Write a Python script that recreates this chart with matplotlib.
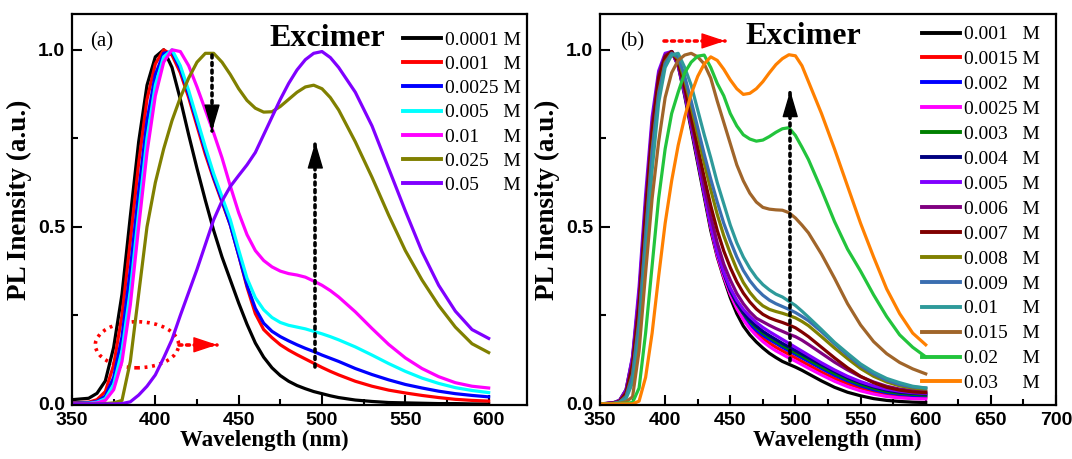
import matplotlib
matplotlib.use("Agg")
import matplotlib.pyplot as plt
from matplotlib.patches import Ellipse
from matplotlib.ticker import MultipleLocator


# wspolna siatka dlugosci fali (nm)
wavelength = [350, 360, 365, 370, 375, 380, 385, 390, 395, 400, 405, 410, 415, 420, 425,
              430, 435, 440, 445, 450, 455, 460, 465, 470, 475, 480, 485, 490, 495, 500,
              505, 510, 520, 530, 540, 550, 560, 570, 580, 590, 600]

# (a) widma PL dla roznych stezen
a_labels = ["0.0001 M", "0.001   M", "0.0025 M", "0.005   M", "0.01     M", "0.025   M", "0.05     M"]
a_colors = ["#000000", "#FF0000", "#0000FF", "#00FFFF", "#FF00FF", "#808000", "#8000FF"]

a_0001 = [0.012, 0.016, 0.03, 0.065, 0.16, 0.31, 0.53, 0.74, 0.90, 0.98, 1.0, 0.95, 0.86, 0.76, 0.665,
          0.575, 0.49, 0.415, 0.35, 0.285, 0.225, 0.172, 0.132, 0.102, 0.08, 0.064, 0.052, 0.043, 0.035, 0.029,
          0.023, 0.018, 0.011, 0.007, 0.004, 0.003, 0.002, 0.001, 0.001, 0.0, 0.0]
a_001 = [0.003, 0.005, 0.012, 0.035, 0.11, 0.25, 0.46, 0.68, 0.86, 0.96, 1.0, 0.985, 0.935, 0.865, 0.785,
         0.705, 0.635, 0.57, 0.505, 0.42, 0.33, 0.255, 0.21, 0.187, 0.167, 0.152, 0.139, 0.127, 0.115, 0.103,
         0.092, 0.082, 0.064, 0.05, 0.039, 0.031, 0.024, 0.018, 0.013, 0.01, 0.008]
a_0025 = [0.002, 0.003, 0.007, 0.022, 0.075, 0.19, 0.38, 0.6, 0.8, 0.93, 0.99, 0.995, 0.945, 0.875, 0.795,
          0.715, 0.64, 0.575, 0.505, 0.42, 0.335, 0.27, 0.228, 0.205, 0.19, 0.178, 0.167, 0.157, 0.148, 0.138,
          0.129, 0.12, 0.1, 0.083, 0.068, 0.055, 0.045, 0.036, 0.029, 0.024, 0.02]
a_005 = [0.001, 0.002, 0.005, 0.015, 0.055, 0.15, 0.32, 0.54, 0.75, 0.9, 0.98, 1.0, 0.955, 0.885, 0.805,
         0.725, 0.65, 0.585, 0.52, 0.435, 0.355, 0.3, 0.266, 0.244, 0.23, 0.222, 0.217, 0.212, 0.205, 0.198,
         0.19, 0.181, 0.161, 0.138, 0.114, 0.092, 0.073, 0.058, 0.046, 0.038, 0.032]
a_01 = [0.001, 0.001, 0.003, 0.01, 0.04, 0.12, 0.28, 0.5, 0.71, 0.87, 0.965, 1.0, 0.995, 0.955, 0.895,
        0.83, 0.765, 0.695, 0.615, 0.54, 0.478, 0.433, 0.405, 0.387, 0.375, 0.368, 0.364, 0.358, 0.347, 0.335,
        0.32, 0.302, 0.26, 0.213, 0.168, 0.13, 0.1, 0.077, 0.06, 0.05, 0.045]
a_025 = [0.0, 0.0, 0.0, 0.001, 0.003, 0.01, 0.12, 0.31, 0.5, 0.625, 0.72, 0.8, 0.865, 0.92, 0.965,
         0.99, 0.99, 0.965, 0.93, 0.89, 0.857, 0.835, 0.824, 0.825, 0.84, 0.86, 0.88, 0.895, 0.9, 0.89,
         0.865, 0.83, 0.74, 0.64, 0.533, 0.433, 0.35, 0.278, 0.217, 0.17, 0.145]
a_05 = [0.0, 0.0, 0.0, 0.0, 0.0, 0.001, 0.006, 0.025, 0.05, 0.082, 0.13, 0.182, 0.25, 0.315, 0.38,
        0.45, 0.52, 0.573, 0.614, 0.645, 0.675, 0.71, 0.76, 0.81, 0.86, 0.905, 0.943, 0.972, 0.99, 0.995,
        0.978, 0.95, 0.88, 0.785, 0.665, 0.545, 0.43, 0.335, 0.262, 0.21, 0.185]
a_series = [a_0001, a_001, a_0025, a_005, a_01, a_025, a_05]

# (b) widma PL dla roznych stezen
b_labels = ["0.001   M", "0.0015 M", "0.002   M", "0.0025 M", "0.003   M", "0.004   M", "0.005   M",
            "0.006   M", "0.007   M", "0.008   M", "0.009   M", "0.01     M", "0.015   M", "0.02     M",
            "0.03     M"]
b_colors = ["#000000", "#FF0000", "#0000FF", "#FF00FF", "#008000", "#000080", "#8000FF",
            "#800080", "#800000", "#808000", "#3A6EB0", "#2E9A9A", "#A0652A", "#22C43C", "#FF8000"]

b_001 = [0.0, 0.003, 0.01, 0.04, 0.13, 0.31, 0.56, 0.78, 0.92, 0.98, 0.995, 0.955, 0.87, 0.775, 0.68,
         0.585, 0.49, 0.415, 0.355, 0.3, 0.255, 0.22, 0.195, 0.175, 0.158, 0.143, 0.131, 0.12, 0.112, 0.104,
         0.095, 0.085, 0.065, 0.047, 0.033, 0.023, 0.015, 0.01, 0.007, 0.005, 0.004]
b_0015 = [0.0, 0.002, 0.008, 0.033, 0.115, 0.29, 0.54, 0.77, 0.915, 0.98, 0.995, 0.96, 0.88, 0.785, 0.69,
          0.595, 0.5, 0.42, 0.36, 0.31, 0.27, 0.24, 0.218, 0.2, 0.185, 0.172, 0.16, 0.15, 0.14, 0.13,
          0.12, 0.11, 0.09, 0.072, 0.057, 0.045, 0.035, 0.028, 0.023, 0.02, 0.018]
b_002 = [0.0, 0.002, 0.007, 0.03, 0.11, 0.28, 0.53, 0.76, 0.91, 0.978, 0.995, 0.962, 0.885, 0.79, 0.695,
         0.6, 0.505, 0.425, 0.365, 0.315, 0.277, 0.248, 0.226, 0.208, 0.194, 0.182, 0.171, 0.16, 0.15, 0.14,
         0.13, 0.12, 0.1, 0.081, 0.065, 0.051, 0.04, 0.032, 0.027, 0.024, 0.022]
b_0025 = [0.0, 0.002, 0.007, 0.03, 0.11, 0.28, 0.53, 0.76, 0.91, 0.978, 0.995, 0.962, 0.885, 0.79, 0.695,
          0.598, 0.5, 0.42, 0.36, 0.31, 0.27, 0.238, 0.213, 0.193, 0.176, 0.162, 0.15, 0.14, 0.13, 0.121,
          0.111, 0.101, 0.082, 0.064, 0.049, 0.037, 0.028, 0.021, 0.017, 0.015, 0.014]
b_003 = [0.0, 0.002, 0.006, 0.027, 0.1, 0.27, 0.52, 0.75, 0.905, 0.975, 0.995, 0.965, 0.89, 0.795, 0.7,
         0.605, 0.51, 0.43, 0.37, 0.32, 0.283, 0.255, 0.233, 0.215, 0.2, 0.188, 0.176, 0.165, 0.155, 0.145,
         0.135, 0.125, 0.105, 0.086, 0.069, 0.055, 0.044, 0.035, 0.03, 0.027, 0.025]
b_004 = [0.0, 0.002, 0.006, 0.026, 0.098, 0.265, 0.515, 0.745, 0.9, 0.975, 0.995, 0.965, 0.89, 0.795, 0.7,
         0.605, 0.51, 0.43, 0.37, 0.32, 0.285, 0.258, 0.237, 0.22, 0.205, 0.193, 0.182, 0.171, 0.161, 0.151,
         0.141, 0.131, 0.111, 0.092, 0.074, 0.06, 0.048, 0.039, 0.033, 0.03, 0.028]
b_005 = [0.0, 0.003, 0.01, 0.04, 0.135, 0.33, 0.59, 0.81, 0.94, 0.99, 0.995, 0.955, 0.875, 0.785, 0.69,
         0.595, 0.505, 0.43, 0.372, 0.327, 0.293, 0.267, 0.247, 0.23, 0.216, 0.204, 0.193, 0.182, 0.171, 0.16,
         0.149, 0.138, 0.116, 0.096, 0.078, 0.063, 0.051, 0.042, 0.036, 0.032, 0.03]
b_006 = [0.0, 0.002, 0.008, 0.035, 0.12, 0.3, 0.56, 0.79, 0.93, 0.985, 0.995, 0.96, 0.885, 0.795, 0.705,
         0.615, 0.53, 0.455, 0.395, 0.35, 0.312, 0.283, 0.26, 0.242, 0.232, 0.222, 0.213, 0.205, 0.197, 0.19,
         0.18, 0.168, 0.143, 0.118, 0.096, 0.077, 0.062, 0.05, 0.042, 0.038, 0.035]
b_007 = [0.0, 0.002, 0.007, 0.03, 0.11, 0.28, 0.54, 0.77, 0.92, 0.98, 0.995, 0.965, 0.895, 0.81, 0.725,
         0.64, 0.56, 0.49, 0.432, 0.385, 0.345, 0.313, 0.288, 0.268, 0.253, 0.243, 0.236, 0.23, 0.223, 0.215,
         0.203, 0.19, 0.16, 0.13, 0.102, 0.078, 0.06, 0.047, 0.039, 0.034, 0.032]
b_008 = [0.0, 0.001, 0.005, 0.022, 0.085, 0.24, 0.48, 0.72, 0.88, 0.965, 0.99, 0.975, 0.915, 0.84, 0.76,
         0.68, 0.605, 0.535, 0.475, 0.425, 0.38, 0.343, 0.315, 0.293, 0.277, 0.267, 0.261, 0.256, 0.25, 0.243,
         0.233, 0.221, 0.19, 0.158, 0.128, 0.1, 0.078, 0.062, 0.051, 0.045, 0.042]
b_009 = [0.0, 0.001, 0.005, 0.02, 0.08, 0.23, 0.47, 0.71, 0.875, 0.96, 0.99, 0.98, 0.925, 0.855, 0.78,
         0.705, 0.635, 0.57, 0.51, 0.46, 0.415, 0.377, 0.348, 0.325, 0.307, 0.293, 0.283, 0.275, 0.267, 0.258,
         0.247, 0.235, 0.204, 0.17, 0.138, 0.108, 0.085, 0.067, 0.055, 0.048, 0.045]
b_01 = [0.0, 0.001, 0.004, 0.015, 0.06, 0.19, 0.42, 0.66, 0.85, 0.95, 0.985, 0.99, 0.95, 0.9, 0.83,
        0.76, 0.695, 0.625, 0.565, 0.505, 0.455, 0.415, 0.383, 0.357, 0.337, 0.322, 0.31, 0.302, 0.29, 0.278,
        0.262, 0.245, 0.21, 0.174, 0.143, 0.113, 0.09, 0.072, 0.06, 0.05, 0.045]
b_015 = [0.0, 0.0, 0.002, 0.006, 0.02, 0.15, 0.37, 0.58, 0.74, 0.865, 0.935, 0.97, 0.985, 0.99, 0.98,
         0.96, 0.92, 0.855, 0.795, 0.735, 0.675, 0.63, 0.595, 0.57, 0.555, 0.55, 0.548, 0.547, 0.54, 0.525,
         0.505, 0.483, 0.423, 0.355, 0.283, 0.223, 0.176, 0.142, 0.117, 0.099, 0.085]
b_02 = [0.0, 0.0, 0.001, 0.002, 0.004, 0.045, 0.2, 0.39, 0.58, 0.72, 0.82, 0.88, 0.935, 0.965, 0.982,
        0.985, 0.95, 0.905, 0.87, 0.82, 0.785, 0.76, 0.748, 0.742, 0.745, 0.755, 0.767, 0.777, 0.78, 0.758,
        0.725, 0.69, 0.605, 0.515, 0.437, 0.375, 0.308, 0.247, 0.195, 0.16, 0.133]
b_03 = [0.0, 0.0, 0.0, 0.0, 0.0, 0.008, 0.075, 0.2, 0.36, 0.51, 0.63, 0.73, 0.81, 0.875, 0.925,
        0.96, 0.98, 0.97, 0.945, 0.915, 0.89, 0.874, 0.877, 0.89, 0.91, 0.935, 0.958, 0.975, 0.986, 0.983,
        0.955, 0.91, 0.82, 0.72, 0.615, 0.51, 0.415, 0.325, 0.255, 0.2, 0.167]
b_series = [b_001, b_0015, b_002, b_0025, b_003, b_004, b_005, b_006, b_007, b_008, b_009,
            b_01, b_015, b_02, b_03]

serif = ["Liberation Serif", "DejaVu Serif"]
sans = ["Liberation Sans", "DejaVu Sans"]


def style_axes(ax, xmax, xlabel_x):
    ax.set_xlim(350, xmax)
    ax.set_ylim(-0.003, 1.101)
    ax.xaxis.set_major_locator(MultipleLocator(50))
    ax.xaxis.set_minor_locator(MultipleLocator(25))
    ax.yaxis.set_major_locator(MultipleLocator(0.5))
    ax.yaxis.set_minor_locator(MultipleLocator(0.25))
    ax.tick_params(which="both", direction="in", top=False, right=False, width=1.5)
    ax.tick_params(which="major", length=7, pad=5)
    ax.tick_params(which="minor", length=4)
    for lab in ax.get_xticklabels() + ax.get_yticklabels():
        lab.set_fontfamily(sans)
        lab.set_fontweight("bold")
        lab.set_fontsize(14)
    for sp in ax.spines.values():
        sp.set_linewidth(1.6)
    ax.set_xlabel("Wavelength (nm)", family=serif, weight="bold", fontsize=16.5)
    ax.set_ylabel("PL Inensity (a.u.)", family=serif, weight="bold", fontsize=19.5)
    ax.xaxis.set_label_coords(xlabel_x, -0.064)
    ax.yaxis.set_label_coords(-0.088, 0.525)


def legend_box(ax, anchor, spacing):
    leg = ax.legend(loc="upper left", bbox_to_anchor=anchor, frameon=False,
                    prop={"family": serif, "size": 14}, handlelength=1.95, handletextpad=0.2,
                    labelspacing=spacing, borderpad=0, borderaxespad=0)
    for h in leg.get_lines():
        h.set_linewidth(2.8)
    return leg


def dotted_arrow(ax, x0, y0, x1, y1, color, hl=1.7, hw=0.5):
    # kropkowana linia + pelny grot
    ax.plot([x0, x1], [y0, y1], color=color, lw=2.6, linestyle=(0, (0.8, 1.3)),
            dash_capstyle="round")
    dx = (x1 - x0) * 0.02
    dy = (y1 - y0) * 0.02
    ax.annotate("", xy=(x1, y1), xytext=(x1 - dx, y1 - dy),
                arrowprops=dict(arrowstyle=f"-|>,head_length={hl},head_width={hw}",
                                color=color, lw=1, shrinkA=0, shrinkB=0))


fig = plt.figure(figsize=(10.72, 4.59), dpi=100)
ax1 = fig.add_axes([72 / 1072, 1 - 405 / 459, 455 / 1072, 391 / 459])
ax2 = fig.add_axes([600 / 1072, 1 - 405 / 459, 456 / 1072, 391 / 459])

# panel (a)
for y, c, lab in zip(a_series, a_colors, a_labels):
    ax1.plot(wavelength, y, color=c, lw=2.3, label=lab)
style_axes(ax1, 623, 0.423)
legend_box(ax1, (0.727, 0.956), 0.34)
ax1.text(0.04, 0.928, "(a)", transform=ax1.transAxes, family=serif, fontsize=15, va="center")
ax1.text(0.435, 0.937, "Excimer", transform=ax1.transAxes, family=serif, weight="bold",
         fontsize=23, va="center")

dotted_arrow(ax1, 434, 0.985, 434, 0.77, "black")
dotted_arrow(ax1, 496, 0.105, 496, 0.74, "black")
ax1.add_patch(Ellipse((389, 0.167), 50, 0.13, fill=False, edgecolor="red", lw=2.6,
                      linestyle=(0, (0.8, 1.3))))
dotted_arrow(ax1, 414, 0.167, 437, 0.167, "red", hl=1.5, hw=0.5)

# panel (b)
for y, c, lab in zip(b_series, b_colors, b_labels):
    ax2.plot(wavelength, y, color=c, lw=2.3, label=lab)
style_axes(ax2, 700, 0.52)
legend_box(ax2, (0.707, 0.97), 0.376)
ax2.text(0.044, 0.928, "(b)", transform=ax2.transAxes, family=serif, fontsize=15, va="center")
ax2.text(0.318, 0.942, "Excimer", transform=ax2.transAxes, family=serif, weight="bold",
         fontsize=23, va="center")

dotted_arrow(ax2, 399, 1.025, 446, 1.025, "red", hl=1.5, hw=0.5)
dotted_arrow(ax2, 496, 0.12, 496, 0.885, "black")

fig.savefig("out.png", dpi=100)
